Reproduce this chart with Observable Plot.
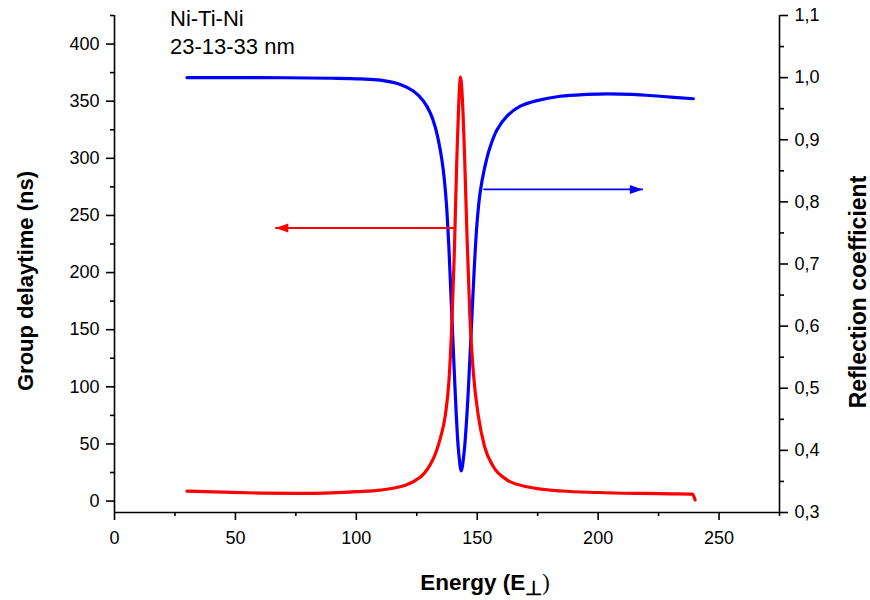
<!DOCTYPE html>
<html><head><meta charset="utf-8">
<script src="https://cdn.jsdelivr.net/npm/d3@7"></script>
<script src="https://cdn.jsdelivr.net/npm/@observablehq/plot@0.6"></script>
<style>
body{margin:0;background:#fff;}
#chart svg{font-family:"Liberation Sans",Arial,sans-serif;}
</style>
</head><body><div id="chart"></div>
<script>
// Group delay time (ns), left axis
const energyDelay = [30,45,60,75,90,100,110,118,124,128,130.6,133,135,136.8,138.3,139.5,140.5,141.5,142.3,143.1,143.9,144.8,145.8,147.0,148.5,150.5,153,156.7,162,170.5,185,200,217,230,239.0,240.1];
const delayNs     = [8.7,7.8,7.0,6.7,7.2,8.2,9.6,12.5,17.5,24,32,43,57,75,105,155,215,295,345,371,350,300,230,160,110,74,48,30,19,12.5,8.8,7.5,6.7,6.3,6.0,1.0];
// Reflection coefficient, right axis
const energyRefl = [30,60,90,101.7,109.9,118.2,123.7,127.8,130.6,132.6,134.7,136.0,137.2,138.3,139.3,140.3,141.3,142.3,143.4,144.6,145.7,146.8,147.8,148.8,149.9,151.2,152.9,155.4,158.2,162.3,167.8,174.7,184.3,195.3,204,214,225.6,239.4];
const reflection = [1.000,1.000,0.999,0.998,0.996,0.989,0.978,0.962,0.943,0.921,0.884,0.850,0.800,0.725,0.635,0.545,0.460,0.398,0.367,0.398,0.455,0.535,0.615,0.695,0.765,0.815,0.852,0.889,0.916,0.938,0.954,0.963,0.970,0.973,0.974,0.973,0.970,0.966];
// Arrows pointing to each curve's axis
const arrowStart = [141.2,152.5];
const arrowEnd   = [66.5,218.5];
const arrowLevel = [239,0.82];
const arrowAxis  = ["left","right"];
const arrowColor = ["#ff0000","#0000ff"];
// Ticks
const xTicks = [0,50,100,150,200,250];
const xMinor = [25,75,125,175,225,275];
const leftTicks = [0,50,100,150,200,250,300,350,400];
const leftMinor = [25,75,125,175,225,275,325,375,425];
const rightTicks = [0.3,0.4,0.5,0.6,0.7,0.8,0.9,1.0,1.1];
const rightMinor = [0.35,0.45,0.55,0.65,0.75,0.85,0.95,1.05];
const xDomain = [0,275];
const leftDomain = [-10,425];
const rightDomain = [0.3,1.1];
const noteLines = ["Ni-Ti-Ni","23-13-33 nm"];

const toLeft = r => leftDomain[0] + (r - rightDomain[0]) / (rightDomain[1] - rightDomain[0]) * (leftDomain[1] - leftDomain[0]);
const toRight = v => rightDomain[0] + (v - leftDomain[0]) / (leftDomain[1] - leftDomain[0]) * (rightDomain[1] - rightDomain[0]);

const delayData = energyDelay.map((e,i) => ({e, v: delayNs[i]}));
const reflData = energyRefl.map((e,i) => ({e, v: toLeft(reflection[i])}));
const arrows = arrowStart.map((s,i) => ({
  x1: s, x2: arrowEnd[i],
  y: arrowAxis[i] === "left" ? arrowLevel[i] : toLeft(arrowLevel[i]),
  color: arrowColor[i],
  rot: arrowEnd[i] > s ? 0 : 180
}));

const headLen = 13, headHalf = 4.5;
const arrowHead = {draw(ctx){ ctx.moveTo(0,0); ctx.lineTo(-headLen,-headHalf); ctx.lineTo(-headLen,headHalf); ctx.closePath(); }};

const fs = 18, sw = 1.6;
const plot = Plot.plot({
  width: 870, height: 600,
  marginLeft: 114, marginRight: 91, marginTop: 15, marginBottom: 88,
  x: {domain: xDomain},
  y: {domain: leftDomain},
  style: {fontFamily: "Liberation Sans, Arial, sans-serif", fontSize: fs + "px", color: "#000", background: "#fff"},
  marks: [
    Plot.axisX({ticks: xTicks, tickSize: 8, tickPadding: 11, label: null, fontSize: fs, strokeWidth: sw}),
    Plot.axisX({ticks: xMinor, tickSize: 4, tickFormat: () => "", label: null, strokeWidth: sw}),
    Plot.axisY({anchor: "left", ticks: leftTicks, tickSize: 8, tickPadding: 7, label: null, fontSize: fs, strokeWidth: sw}),
    Plot.axisY({anchor: "left", ticks: leftMinor, tickSize: 4, tickFormat: () => "", label: null, strokeWidth: sw}),
    Plot.axisY({anchor: "right", ticks: rightTicks.map(toLeft), tickSize: 8, tickPadding: 7, label: null, fontSize: fs, strokeWidth: sw,
      tickFormat: v => toRight(v).toFixed(1).replace(".", ",")}),
    Plot.axisY({anchor: "right", ticks: rightMinor.map(toLeft), tickSize: 4, tickFormat: () => "", label: null, strokeWidth: sw}),
    Plot.ruleX([xDomain[0]], {stroke: "#000", strokeWidth: sw}),
    Plot.ruleX([xDomain[1]], {stroke: "#000", strokeWidth: sw}),
    Plot.ruleY([leftDomain[0]], {stroke: "#000", strokeWidth: sw}),
    Plot.line(reflData, {x: "e", y: "v", stroke: "#0000ff", strokeWidth: 3.2, curve: "catmull-rom"}),
    Plot.line(delayData, {x: "e", y: "v", stroke: "#ff0000", strokeWidth: 3.2, curve: "monotone-x"}),
    Plot.link(arrows, {x1: "x1", x2: "x2", y1: "y", y2: "y", stroke: "color", strokeWidth: 1.8}),
    Plot.dot(arrows, {x: "x2", y: "y", symbol: arrowHead, fill: "color", stroke: "none", rotate: "rot", r: 5})
  ]
});

const svg = d3.select(plot);
svg.append("text").attr("x", 170).attr("y", 26).attr("text-anchor", "start").attr("font-size", 22).attr("fill", "#000").text(noteLines[0]);
svg.append("text").attr("x", 170).attr("y", 54).attr("text-anchor", "start").attr("font-size", 22).attr("fill", "#000").text(noteLines[1]);

const xl = svg.append("text").attr("x", 485).attr("y", 590).attr("text-anchor", "middle")
  .attr("font-size", 22.5).attr("font-weight", "bold").attr("fill", "#000");
xl.append("tspan").text("Energy (E");
xl.append("tspan").attr("dy", 5).attr("font-size", 20).text("\u22A5");
xl.append("tspan").attr("dy", -5).attr("font-weight", "normal").attr("font-family", "Liberation Serif, Times New Roman, serif").text(")");

svg.append("text").attr("transform", "translate(33,281) rotate(-90)").attr("text-anchor", "middle")
  .attr("font-size", 22).attr("font-weight", "bold").attr("fill", "#000").text("Group delaytime (ns)");
svg.append("text").attr("transform", "translate(866,292) rotate(-90)").attr("text-anchor", "middle")
  .attr("font-size", 23).attr("font-weight", "bold").attr("fill", "#000").text("Reflection coefficient");

document.getElementById("chart").appendChild(plot);
</script>
</body></html>
